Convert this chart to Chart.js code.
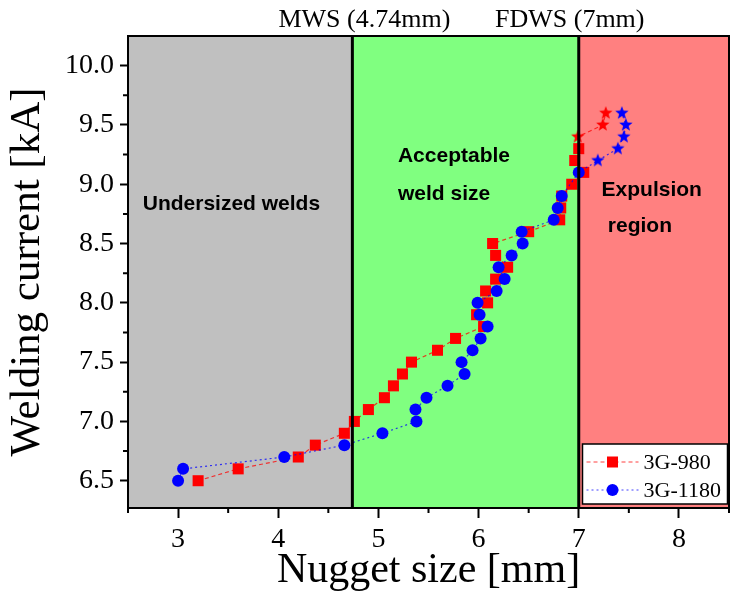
<!DOCTYPE html>
<html>
<head>
<meta charset="utf-8">
<script src="https://cdn.jsdelivr.net/npm/chart.js@4.4.0/dist/chart.umd.min.js"></script>
<style>
  html, body { margin: 0; padding: 0; background: #fff; }
</style>
</head>
<body>
<canvas id="myChart" width="730" height="592"></canvas>
<script>
// 3G-980 series (red squares, stars once expulsion starts)
var redX = [3.2, 3.6, 4.2, 4.37, 4.66, 4.76, 4.9, 5.06, 5.15, 5.24, 5.33, 5.59, 5.77, 6.05, 5.98, 6.09, 6.07, 6.17, 6.29, 6.17, 6.14, 6.5, 6.81, 6.82, 6.83, 6.93, 7.05, 6.96, 7.0, 6.99, 7.24, 7.27];
var redY = [6.5, 6.6, 6.7, 6.8, 6.9, 7.0, 7.1, 7.2, 7.3, 7.4, 7.5, 7.6, 7.7, 7.8, 7.9, 8.0, 8.1, 8.2, 8.3, 8.4, 8.5, 8.6, 8.7, 8.8, 8.9, 9.0, 9.1, 9.2, 9.3, 9.4, 9.5, 9.6];
var redStarFrom = 9.4;

// 3G-1180 series (blue circles, stars once expulsion starts)
var blueX = [3.0, 3.05, 4.06, 4.66, 5.04, 5.38, 5.37, 5.48, 5.69, 5.86, 5.83, 5.94, 6.02, 6.09, 6.01, 5.99, 6.18, 6.26, 6.2, 6.33, 6.44, 6.43, 6.75, 6.79, 6.83, 7.0, 7.19, 7.39, 7.45, 7.47, 7.43];
var blueY = [6.5, 6.6, 6.7, 6.8, 6.9, 7.0, 7.1, 7.2, 7.3, 7.4, 7.5, 7.6, 7.7, 7.8, 7.9, 8.0, 8.1, 8.2, 8.3, 8.4, 8.5, 8.6, 8.7, 8.8, 8.9, 9.1, 9.2, 9.3, 9.4, 9.5, 9.6];
var blueStarFrom = 9.2;

// axes
var xTicks = [3, 4, 5, 6, 7, 8];
var xMinorTicks = [2.5, 3.5, 4.5, 5.5, 6.5, 7.5, 8.5];
var yTicks = [6.5, 7.0, 7.5, 8.0, 8.5, 9.0, 9.5, 10.0];
var yMinorTicks = [6.75, 7.25, 7.75, 8.25, 8.75, 9.25, 9.75];

// weld size regions
var regionEdges = [2.5, 4.74, 7.0, 8.5];
var regionColors = ['#c0c0c0', '#80ff80', '#ff8080'];
var boundaryLines = [4.74, 7.0];
var topLabels = [
    { text: 'MWS (4.74mm)', x: 4.86 },
    { text: 'FDWS (7mm)', x: 6.91 }
];
var regionNotes = [
    { text: 'Undersized welds', x: 2.647, y: 8.785 },
    { text: 'Acceptable', x: 5.195, y: 9.185 },
    { text: 'weld size', x: 5.195, y: 8.863 },
    { text: 'Expulsion', x: 7.228, y: 8.905 },
    { text: 'region', x: 7.29, y: 8.596 }
];

var serif = '"Liberation Serif", "Times New Roman", serif';
var sans = '"Liberation Sans", Arial, sans-serif';

function makeStar(color) {
    var r = 7;
    var c = document.createElement('canvas');
    c.width = c.height = 2 * r + 2;
    var g = c.getContext('2d');
    g.fillStyle = color;
    g.beginPath();
    for (var i = 0; i < 10; i++) {
        var rad = i % 2 ? r * 0.42 : r;
        var ang = -Math.PI / 2 + i * Math.PI / 5;
        g.lineTo(r + 1 + rad * Math.cos(ang), r + 1 + rad * Math.sin(ang));
    }
    g.closePath();
    g.fill();
    return c;
}

var redStar = makeStar('#ff0000');
var blueStar = makeStar('#0000ff');

function toPoints(xs, ys) {
    return xs.map(function (v, i) { return { x: v, y: ys[i] }; });
}

var redStyles = redY.map(function (v) { return v >= redStarFrom ? redStar : 'rect'; });
var blueStyles = blueY.map(function (v) { return v >= blueStarFrom ? blueStar : 'circle'; });

// Draw a legend entry marker (line + symbol)
function drawMarker(ctx, style, color, x, y) {
    ctx.fillStyle = color;
    if (style === 'rect') {
        ctx.fillRect(x - 5.5, y - 5.5, 11, 11);
    } else {
        ctx.beginPath();
        ctx.arc(x, y, 6, 0, Math.PI * 2);
        ctx.fill();
    }
}

var decor = {
    id: 'decor',
    beforeDraw: function (chart) {
        var ctx = chart.ctx, a = chart.chartArea, xs = chart.scales.x, ys = chart.scales.y;
        ctx.save();
        for (var i = 0; i < regionColors.length; i++) {
            var x0 = xs.getPixelForValue(regionEdges[i]);
            var x1 = xs.getPixelForValue(regionEdges[i + 1]);
            ctx.fillStyle = regionColors[i];
            ctx.fillRect(x0, a.top, x1 - x0, a.bottom - a.top);
        }
        ctx.fillStyle = '#000';
        ctx.font = 'bold 21px ' + sans;
        ctx.textBaseline = 'alphabetic';
        ctx.textAlign = 'left';
        regionNotes.forEach(function (n) {
            ctx.fillText(n.text, xs.getPixelForValue(n.x), ys.getPixelForValue(n.y));
        });
        ctx.restore();
    },
    afterDatasetsDraw: function (chart) {
        var ctx = chart.ctx, a = chart.chartArea, xs = chart.scales.x;
        ctx.save();
        ctx.strokeStyle = '#000';
        ctx.lineWidth = 3;
        boundaryLines.forEach(function (v) {
            var px = xs.getPixelForValue(v);
            ctx.beginPath();
            ctx.moveTo(px, a.top);
            ctx.lineTo(px, a.bottom);
            ctx.stroke();
        });
        ctx.restore();
    },
    afterDraw: function (chart) {
        var ctx = chart.ctx, a = chart.chartArea, xs = chart.scales.x, ys = chart.scales.y;
        ctx.save();
        // frame top and right
        ctx.strokeStyle = '#000';
        ctx.lineWidth = 2;
        ctx.beginPath();
        ctx.moveTo(a.left - 1, a.top);
        ctx.lineTo(a.right, a.top);
        ctx.lineTo(a.right, a.bottom);
        ctx.stroke();
        // minor ticks
        ctx.beginPath();
        xMinorTicks.forEach(function (v) {
            var px = xs.getPixelForValue(v);
            ctx.moveTo(px, a.bottom);
            ctx.lineTo(px, a.bottom + 5);
        });
        yMinorTicks.forEach(function (v) {
            var py = ys.getPixelForValue(v);
            ctx.moveTo(a.left, py);
            ctx.lineTo(a.left - 5, py);
        });
        ctx.stroke();
        // top labels
        ctx.fillStyle = '#000';
        ctx.font = '26px ' + serif;
        ctx.textAlign = 'center';
        ctx.textBaseline = 'alphabetic';
        topLabels.forEach(function (t) {
            ctx.fillText(t.text, xs.getPixelForValue(t.x), a.top - 9);
        });
        // legend
        var lw = 145, lh = 60;
        var lx = a.right - 1.5 - lw, ly = a.bottom - 4 - lh;
        ctx.fillStyle = '#fff';
        ctx.fillRect(lx, ly, lw, lh);
        ctx.lineWidth = 1.5;
        ctx.strokeStyle = '#000';
        ctx.strokeRect(lx, ly, lw, lh);
        var entries = [
            { label: '3G-980', color: '#ff0000', line: 'rgba(255,0,0,0.75)', dash: [4, 3], style: 'rect' },
            { label: '3G-1180', color: '#0000ff', line: 'rgba(0,0,255,0.75)', dash: [2, 3], style: 'circle' }
        ];
        ctx.font = '22px ' + serif;
        ctx.textAlign = 'left';
        ctx.textBaseline = 'middle';
        entries.forEach(function (e, i) {
            var cy = ly + 18 + i * 28;
            ctx.strokeStyle = e.line;
            ctx.lineWidth = 1;
            ctx.setLineDash(e.dash);
            ctx.beginPath();
            ctx.moveTo(lx + 4, cy);
            ctx.lineTo(lx + 56, cy);
            ctx.stroke();
            ctx.setLineDash([]);
            drawMarker(ctx, e.style, e.color, lx + 30, cy);
            ctx.fillStyle = '#000';
            ctx.fillText(e.label, lx + 61, cy + 1);
        });
        ctx.restore();
    }
};

var ctx = document.getElementById('myChart').getContext('2d');
var myChart = new Chart(ctx, {
    type: 'scatter',
    data: {
        datasets: [{
            label: '3G-980',
            data: toPoints(redX, redY),
            showLine: true,
            borderColor: 'rgba(255,0,0,0.75)',
            borderWidth: 1.2,
            borderDash: [4, 3],
            pointStyle: redStyles,
            pointRadius: 7.8,
            pointBackgroundColor: '#ff0000',
            pointBorderWidth: 0,
            order: 2
        }, {
            label: '3G-1180',
            data: toPoints(blueX, blueY),
            showLine: true,
            borderColor: 'rgba(0,0,255,0.75)',
            borderWidth: 1.2,
            borderDash: [2, 3],
            pointStyle: blueStyles,
            pointRadius: 6,
            pointBackgroundColor: '#0000ff',
            pointBorderWidth: 0,
            order: 1
        }]
    },
    options: {
        responsive: false,
        animation: false,
        events: [],
        layout: { autoPadding: false, padding: { top: 36, right: 1, left: 0, bottom: 0 } },
        plugins: {
            legend: { display: false },
            tooltip: { enabled: false }
        },
        scales: {
            x: {
                type: 'linear',
                min: 2.5,
                max: 8.5,
                afterBuildTicks: function (s) { s.ticks = xTicks.map(function (v) { return { value: v }; }); },
                afterFit: function (s) { s.height = 84; s.paddingLeft = 0; s.paddingRight = 0; },
                grid: { drawOnChartArea: false, tickLength: 10, tickWidth: 2, tickColor: '#000' },
                border: { display: true, width: 2, color: '#000' },
                ticks: {
                    color: '#000',
                    padding: 5,
                    font: { family: serif, size: 28 },
                    maxRotation: 0,
                    callback: function (v) { return v; }
                },
                title: {
                    display: true,
                    text: 'Nugget size [mm]',
                    color: '#000',
                    font: { family: serif, size: 42, lineHeight: 1 },
                    padding: 0
                }
            },
            y: {
                type: 'linear',
                min: 6.27,
                max: 10.25,
                afterBuildTicks: function (s) { s.ticks = yTicks.map(function (v) { return { value: v }; }); },
                afterFit: function (s) { s.width = 128; },
                grid: { drawOnChartArea: false, tickLength: 8, tickWidth: 2, tickColor: '#000' },
                border: { display: true, width: 2, color: '#000' },
                ticks: {
                    color: '#000',
                    padding: 6,
                    font: { family: serif, size: 28 },
                    callback: function (v) { return v.toFixed(1); }
                },
                title: {
                    display: true,
                    text: 'Welding current [kA]',
                    color: '#000',
                    font: { family: serif, size: 43, lineHeight: 1 },
                    padding: { top: 6, bottom: 0 }
                }
            }
        }
    },
    plugins: [decor]
});
</script>
</body>
</html>
